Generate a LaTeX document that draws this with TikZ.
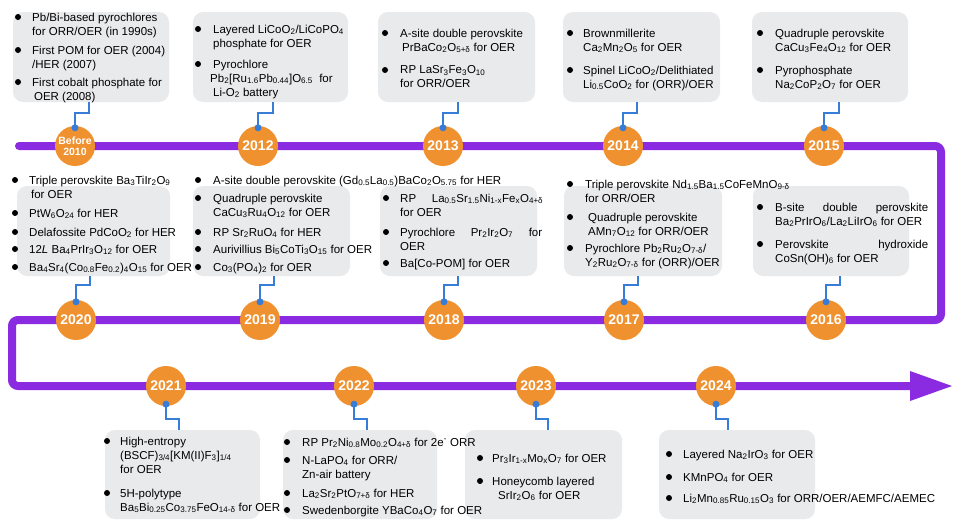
\documentclass[tikz,border=0pt]{standalone}
\usepackage{fontspec}
\setmainfont{Liberation Sans}
\usetikzlibrary{calc}
\definecolor{tlpurple}{RGB}{138,43,226}
\definecolor{yrorange}{RGB}{240,145,48}
\definecolor{lnkblue}{RGB}{55,125,215}
\definecolor{boxgray}{RGB}{233,234,236}
\newcommand{\sbs}[1]{\textsubscript{#1}}
\def\bul(#1,#2){\fill (#1,#2) circle (3pt);}
\tikzset{
  yr/.style={circle, fill=yrorange, minimum size=40pt, inner sep=0pt, text=white, font=\bfseries\fontsize{14}{14}\selectfont},
  box/.style={fill=boxgray, rounded corners=10pt},
  itm/.style={anchor=north west, yshift=4.5pt, align=left, inner sep=0pt, font=\fontsize{11.5}{14}\selectfont},
  lnk/.style={draw=lnkblue, line width=1.6pt},
}

\begin{document}
\begin{tikzpicture}[x=1pt, y=-1pt]
			%%%%% START %%%%%
			\fill[white] (0,0) rectangle (955,525);
			\useasboundingbox (0,0) rectangle (955,525);
			
			\draw[tlpurple, line width=8pt, rounded corners=6pt, line cap=round] (19,146) -- (941,146) -- (941,320) -- (12,320) -- (12,386) -- (914,386);
			\fill[tlpurple] (910,371) -- (952,386) -- (910,401) -- cycle;
			
			\fill[box] (13,12) rectangle (169,102);
			\fill[box] (193,12) rectangle (348,102);
			\fill[box] (378,12) rectangle (535,102);
			\fill[box] (563,12) rectangle (720,102);
			\fill[box] (752,12) rectangle (908,102);
			
			\fill[box] (17,186) rectangle (170,276);
			\fill[box] (193,186) rectangle (350,276);
			\fill[box] (380,186) rectangle (537,276);
			\fill[box] (564,186) rectangle (722,276);
			\fill[box] (753,186) rectangle (909,276);
			
			\fill[box] (105,430) rectangle (260,519);
			\fill[box] (283,430) rectangle (437,519);
			\fill[box] (465,430) rectangle (622,519);
			\fill[box] (659,430) rectangle (815,519);
			
			% before 2010 .. 2015
			\bul(18,17) \node[itm] (t10a) at (32,17) {Pb/Bi-based pyrochlores\\for ORR/OER (in 1990s)};
			\bul(18,50) \node[itm] (t10b) at (32,50) {First POM for OER (2004)\\/HER (2007)};
			\bul(18,82) \node[itm] (t10c) at (32,82) {First cobalt phosphate for\\\,OER (2008)};
			
			\bul(198,29) \node[itm] (t12a) at (213,29) {Layered LiCoO\sbs{2}/LiCoPO\sbs{4}\\phosphate for OER};
			\bul(198,64) \node[itm] (t12b) at (213,64) {Pyrochlore\\\hspace*{-3pt}Pb\sbs{2}[Ru\sbs{1.6}Pb\sbs{0.44}]O\sbs{6.5}\ \ for\\Li-O\sbs{2} battery};
			
			\bul(385,33) \node[itm] (t13a) at (400,33) {A-site double perovskite\\\,PrBaCo\sbs{2}O\sbs{5+δ} for OER};
			\bul(385,70) \node[itm] (t13b) at (400,70) {RP LaSr\sbs{3}Fe\sbs{3}O\sbs{10}\\for ORR/OER};
			
			\bul(570,33) \node[itm] (t14a) at (583,33) {Brownmillerite\\Ca\sbs{2}Mn\sbs{2}O\sbs{5} for OER};
			\bul(570,70) \node[itm] (t14b) at (583,70) {Spinel LiCoO\sbs{2}/Delithiated\\Li\sbs{0.5}CoO\sbs{2} for (ORR)/OER};
			
			\bul(760,33) \node[itm] (t15a) at (775,33) {Quadruple perovskite\\CaCu\sbs{3}Fe\sbs{4}O\sbs{12} for OER};
			\bul(760,70) \node[itm] (t15b) at (775,70) {Pyrophosphate\\Na\sbs{2}CoP\sbs{2}O\sbs{7} for OER};
			
			% 2020 .. 2016
			\bul(15,180) \node[itm] (t20a) at (29,180) {Triple perovskite Ba\sbs{3}TiIr\sbs{2}O\sbs{9}\\\,for OER};
			\bul(15,213) \node[itm] (t20b) at (29,213) {PtW\sbs{6}O\sbs{24} for HER};
			\bul(15,232) \node[itm] (t20c) at (29,232) {Delafossite PdCoO\sbs{2} for HER};
			\bul(15,249) \node[itm] (t20d) at (29,249) {12\textit{L} Ba\sbs{4}PrIr\sbs{3}O\sbs{12} for OER};
			\bul(15,267) \node[itm] (t20e) at (29,267) {Ba\sbs{4}Sr\sbs{4}(Co\sbs{0.8}Fe\sbs{0.2})\sbs{4}O\sbs{15} for OER};
			
			\bul(198,180) \node[itm] (t19a) at (213,180) {A-site double perovskite (Gd\sbs{0.5}La\sbs{0.5})BaCo\sbs{2}O\sbs{5.75} for HER};
			\bul(198,198) \node[itm] (t19b) at (213,198) {Quadruple perovskite\\CaCu\sbs{3}Ru\sbs{4}O\sbs{12} for OER};
			\bul(198,232) \node[itm] (t19c) at (213,232) {RP Sr\sbs{2}RuO\sbs{4} for HER};
			\bul(198,249) \node[itm] (t19d) at (213,249) {Aurivillius Bi\sbs{5}CoTi\sbs{3}O\sbs{15} for OER};
			\bul(198,267) \node[itm] (t19e) at (213,267) {Co\sbs{3}(PO\sbs{4})\sbs{2} for OER};
			
			\bul(386,198) \node[itm] (t18a) at (400,198) {\makebox[143pt][s]{RP La\sbs{0.5}Sr\sbs{1.5}Ni\sbs{1-x}Fe\sbs{x}O\sbs{4+δ}}\\for OER};
			\bul(386,232) \node[itm] (t18b) at (400,232) {\makebox[142pt][s]{Pyrochlore Pr\sbs{2}Ir\sbs{2}O\sbs{7} for}\\OER};
			\bul(386,263) \node[itm] (t18c) at (400,263) {Ba[Co-POM] for OER};
			
			\bul(570,184) \node[itm] (t17a) at (585,184) {Triple perovskite Nd\sbs{1.5}Ba\sbs{1.5}CoFeMnO\sbs{9-δ}\\for ORR/OER};
			\bul(570,217) \node[itm] (t17b) at (588,217) {Quadruple perovskite\\AMn\sbs{7}O\sbs{12} for ORR/OER};
			\bul(570,248) \node[itm] (t17c) at (585,248) {Pyrochlore Pb\sbs{2}Ru\sbs{2}O\sbs{7-δ}/\\Y\sbs{2}Ru\sbs{2}O\sbs{7-δ} for (ORR)/OER};
			
			\bul(760,207) \node[itm] (t16a) at (775,207) {\makebox[153pt][s]{B-site double perovskite}\\Ba\sbs{2}PrIrO\sbs{6}/La\sbs{2}LiIrO\sbs{6} for OER};
			\bul(760,244) \node[itm] (t16b) at (775,244) {\makebox[153pt][s]{Perovskite hydroxide}\\CoSn(OH)\sbs{6} for OER};
			
			% 2021 .. 2024
			\bul(107,441) \node[itm] (t21a) at (120,441) {High-entropy\\(BSCF)\sbs{3/4}[KM(II)F\sbs{3}]\sbs{1/4}\\for OER};
			\bul(107,493) \node[itm] (t21b) at (120,493) {5H-polytype\\Ba\sbs{5}Bi\sbs{0.25}Co\sbs{3.75}FeO\sbs{14-δ} for OER};
			
			\bul(287,442) \node[itm] (t22a) at (302,442) {RP Pr\sbs{2}Ni\sbs{0.8}Mo\sbs{0.2}O\sbs{4+δ} for 2e\textsuperscript{-} ORR};
			\bul(287,460) \node[itm] (t22b) at (302,460) {N-LaPO\sbs{4} for ORR/\\Zn-air battery};
			\bul(287,493) \node[itm] (t22c) at (302,493) {La\sbs{2}Sr\sbs{2}PtO\sbs{7+δ} for HER};
			\bul(287,510) \node[itm] (t22d) at (302,510) {Swedenborgite YBaCo\sbs{4}O\sbs{7} for OER};
			
			\bul(480,458) \node[itm] (t23a) at (492,458) {Pr\sbs{3}Ir\sbs{1-x}Mo\sbs{x}O\sbs{7} for OER};
			\bul(480,481) \node[itm] (t23b) at (492,481) {Honeycomb layered\\\hspace*{6pt}SrIr\sbs{2}O\sbs{6} for OER};
			
			\bul(669,454) \node[itm] (t24a) at (683,454) {Layered Na\sbs{2}IrO\sbs{3} for OER};
			\bul(669,477) \node[itm] (t24b) at (683,477) {KMnPO\sbs{4} for OER};
			\bul(669,498) \node[itm] (t24c) at (683,498) {Li\sbs{2}Mn\sbs{0.85}Ru\sbs{0.15}O\sbs{3} for ORR/OER/AEMFC/AEMEC};
			
			% years
			\node[yr, align=center, font=\bfseries\fontsize{10.5}{11.5}\selectfont] (y10) at (75,146) {Before\\2010};
			\node[yr] (y12) at (258,146) {2012};
			\node[yr] (y13) at (443,146) {2013};
			\node[yr] (y14) at (623,146) {2014};
			\node[yr] (y15) at (824,146) {2015};
			
			\node[yr] (y20) at (76,320) {2020};
			\node[yr] (y19) at (260,320) {2019};
			\node[yr] (y18) at (444,320) {2018};
			\node[yr] (y17) at (624,320) {2017};
			\node[yr] (y16) at (826,320) {2016};
			
			\node[yr] (y21) at (166,386) {2021};
			\node[yr] (y22) at (354,386) {2022};
			\node[yr] (y23) at (536,386) {2023};
			\node[yr] (y24) at (716,386) {2024};
			
			% links
			\coordinate (k10) at (89,102);
			\coordinate (k12) at (273,102);
			\coordinate (k13) at (458,102);
			\coordinate (k14) at (637,102);
			\coordinate (k15) at (839,102);
			\draw[lnk] (y10.north) -- ++(0,-13) -| (k10);
			\draw[lnk] (y12.north) -- ++(0,-13) -| (k12);
			\draw[lnk] (y13.north) -- ++(0,-13) -| (k13);
			\draw[lnk] (y14.north) -- ++(0,-13) -| (k14);
			\draw[lnk] (y15.north) -- ++(0,-13) -| (k15);
			
			\coordinate (k20) at (90,276);
			\coordinate (k19) at (274,276);
			\coordinate (k18) at (458,276);
			\coordinate (k17) at (638,276);
			\coordinate (k16) at (840,276);
			\draw[lnk] (y20.north) -- ++(0,-15) -| (k20);
			\draw[lnk] (y19.north) -- ++(0,-15) -| (k19);
			\draw[lnk] (y18.north) -- ++(0,-15) -| (k18);
			\draw[lnk] (y17.north) -- ++(0,-15) -| (k17);
			\draw[lnk] (y16.north) -- ++(0,-15) -| (k16);
			
			\coordinate (k21) at (179,430);
			\coordinate (k22) at (367,430);
			\coordinate (k23) at (548,430);
			\coordinate (k24) at (728,430);
			\draw[lnk] (y21.south) -- ++(0,13) -| (k21);
			\draw[lnk] (y22.south) -- ++(0,13) -| (k22);
			\draw[lnk] (y23.south) -- ++(0,13) -| (k23);
			\draw[lnk] (y24.south) -- ++(0,13) -| (k24);
			
			\foreach \y in {y10,y12,y13,y14,y15,y20,y19,y18,y17,y16}
				\fill[lnkblue] ([yshift=-2pt]\y.north) circle (3.5pt);
			\foreach \y in {y21,y22,y23,y24}
				\fill[lnkblue] ([yshift=2pt]\y.south) circle (3.5pt);
			%%%%% END %%%%%
\end{tikzpicture}
\end{document}
